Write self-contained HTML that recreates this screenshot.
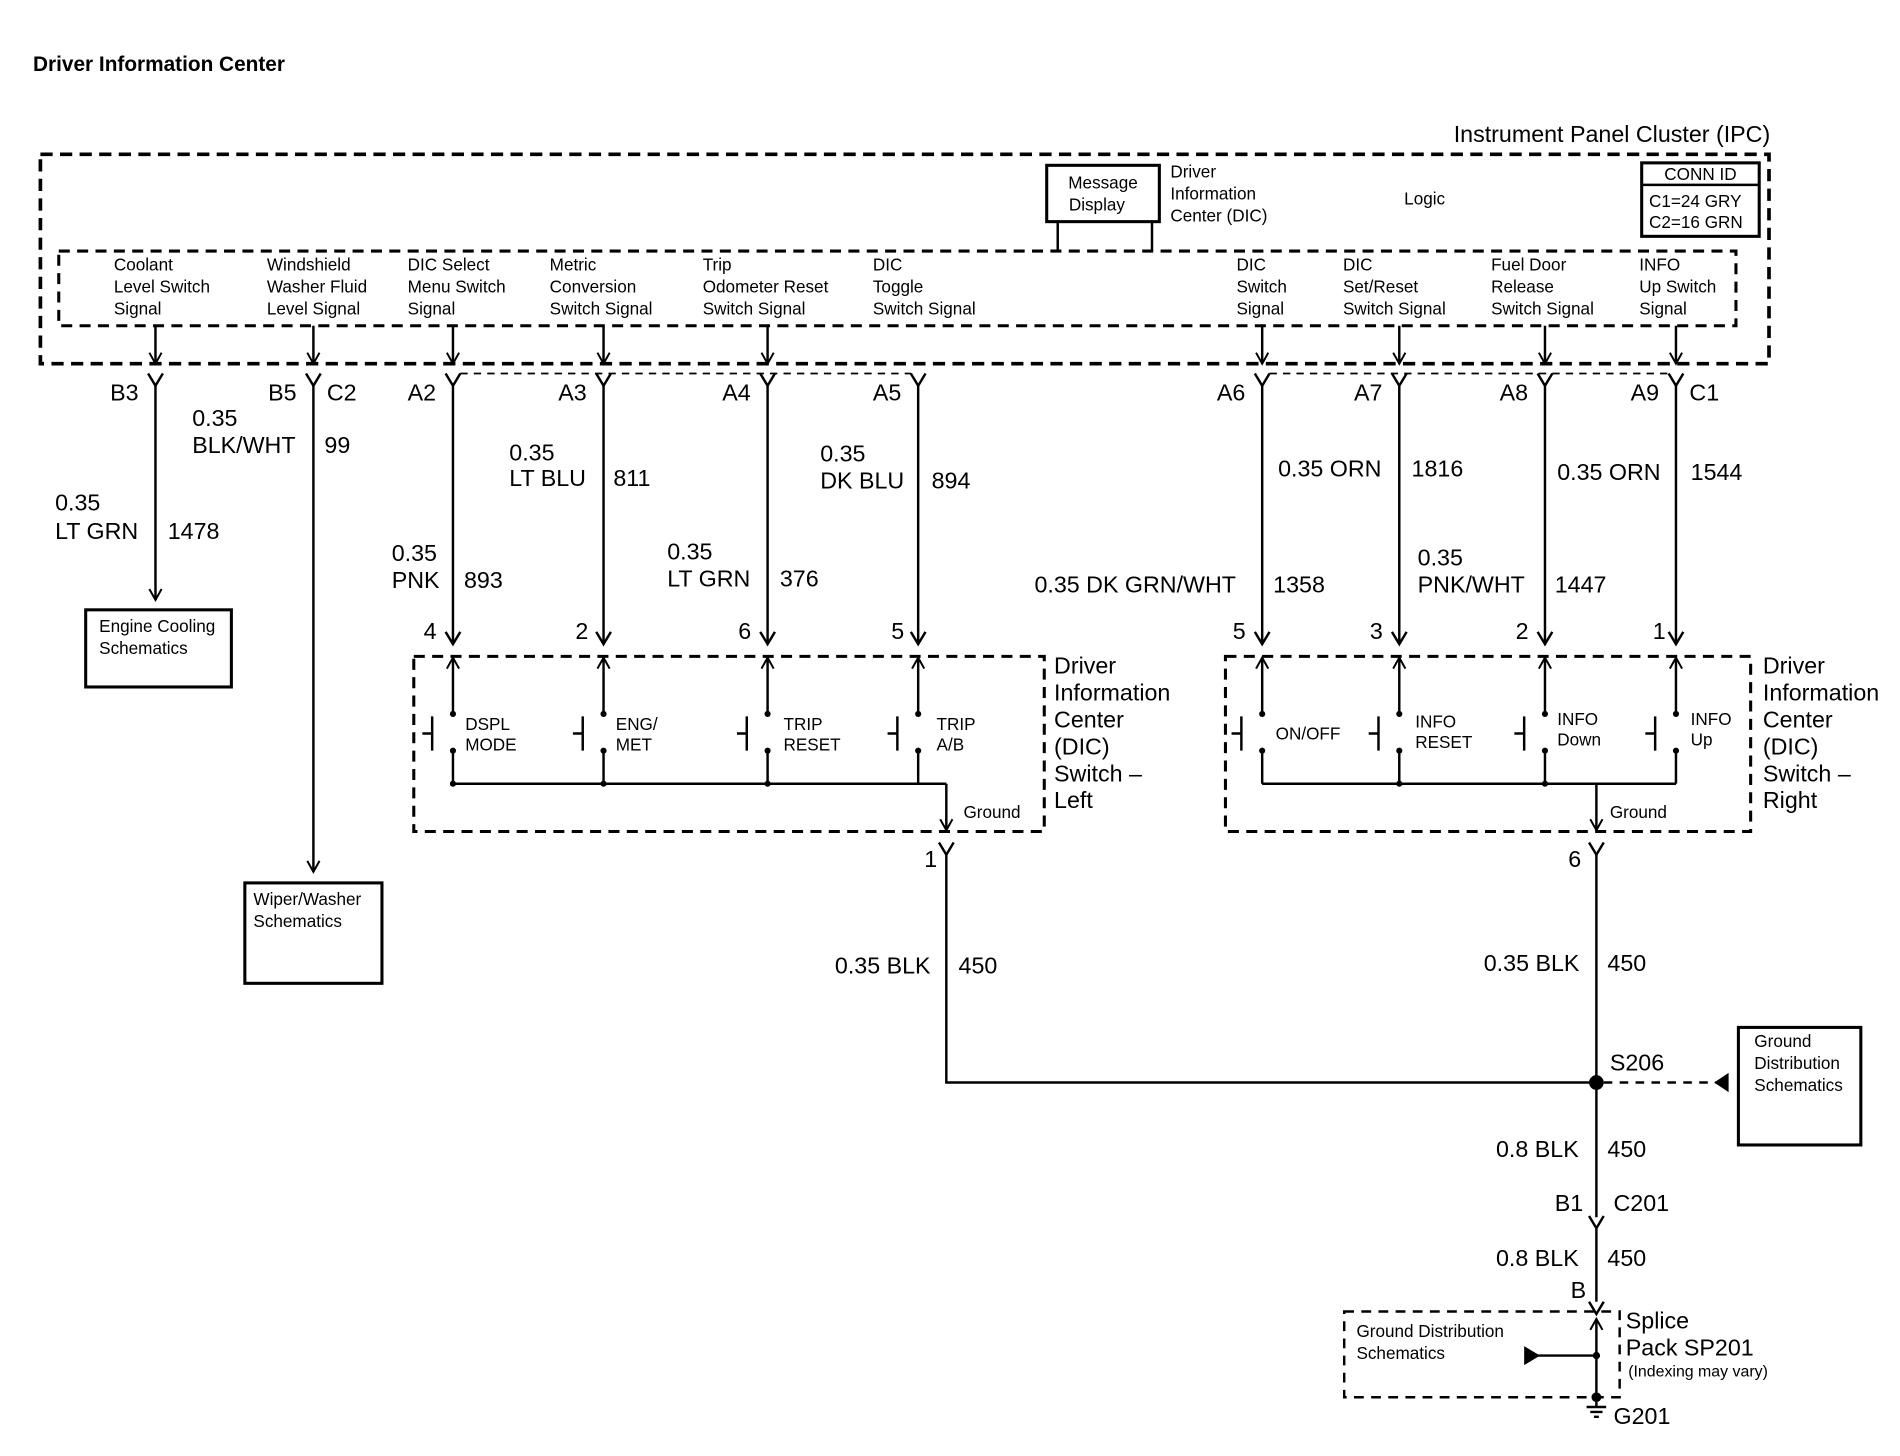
<!DOCTYPE html>
<html><head><meta charset="utf-8"><style>
html,body{margin:0;padding:0;background:#fff}
svg{display:block}
text{font-family:"Liberation Sans",Arial,sans-serif;fill:#000}
.s{font-size:14px}.m{font-size:19px}
</style></head><body>
<svg width="1900" height="1456" viewBox="0 0 1552 1189" preserveAspectRatio="none" xmlns="http://www.w3.org/2000/svg">
<defs>
<marker id="ad" markerWidth="12" markerHeight="12" refX="10" refY="6" orient="auto" markerUnits="userSpaceOnUse"><path d="M1,1 L10,6 L1,11" fill="none" stroke="#000" stroke-width="1.6"/></marker>
</defs>
<g stroke="#000" fill="none" stroke-width="2">
<text x="27" y="58" style="font-size:17px;font-weight:bold" stroke="none">Driver Information Center</text>
<rect x="33" y="126" width="1412" height="171" stroke-width="3" stroke-dasharray="10,6"/>
<rect x="48" y="205" width="1370" height="61" stroke-width="2.5" stroke-dasharray="9,6"/>
<rect x="855" y="135" width="92" height="46" stroke-width="2.5"/>
<line x1="864" y1="181" x2="864" y2="205"/><line x1="941" y1="181" x2="941" y2="205"/>
<rect x="1341" y="133" width="96" height="60" stroke-width="2.5"/>
<line x1="1341" y1="151" x2="1437" y2="151"/>
</g>
<g class="s">
<text x="1446" y="116" class="m" text-anchor="end">Instrument Panel Cluster (IPC)</text>
<text x="901" y="154" text-anchor="middle">Message</text><text x="896" y="172" text-anchor="middle">Display</text>
<text x="956" y="145">Driver</text><text x="956" y="163">Information</text><text x="956" y="181">Center (DIC)</text>
<text x="1147" y="167">Logic</text>
<text x="1389" y="147" text-anchor="middle">CONN ID</text>
<text x="1347" y="169">C1=24 GRY</text><text x="1347" y="186">C2=16 GRN</text>
<text x="93" y="221">Coolant</text><text x="93" y="239">Level Switch</text><text x="93" y="257">Signal</text>
<text x="218" y="221">Windshield</text><text x="218" y="239">Washer Fluid</text><text x="218" y="257">Level Signal</text>
<text x="333" y="221">DIC Select</text><text x="333" y="239">Menu Switch</text><text x="333" y="257">Signal</text>
<text x="449" y="221">Metric</text><text x="449" y="239">Conversion</text><text x="449" y="257">Switch Signal</text>
<text x="574" y="221">Trip</text><text x="574" y="239">Odometer Reset</text><text x="574" y="257">Switch Signal</text>
<text x="713" y="221">DIC</text><text x="713" y="239">Toggle</text><text x="713" y="257">Switch Signal</text>
<text x="1010" y="221">DIC</text><text x="1010" y="239">Switch</text><text x="1010" y="257">Signal</text>
<text x="1097" y="221">DIC</text><text x="1097" y="239">Set/Reset</text><text x="1097" y="257">Switch Signal</text>
<text x="1218" y="221">Fuel Door</text><text x="1218" y="239">Release</text><text x="1218" y="257">Switch Signal</text>
<text x="1339" y="221">INFO</text><text x="1339" y="239">Up Switch</text><text x="1339" y="257">Signal</text>
</g>
<g stroke="#000" fill="none" stroke-width="2">
<g marker-end="url(#ad)">
<line x1="127" y1="266" x2="127" y2="297"/><line x1="256" y1="266" x2="256" y2="297"/><line x1="370" y1="266" x2="370" y2="297"/><line x1="493" y1="266" x2="493" y2="297"/><line x1="627" y1="266" x2="627" y2="297"/><line x1="1031" y1="266" x2="1031" y2="297"/><line x1="1143" y1="266" x2="1143" y2="297"/><line x1="1262" y1="266" x2="1262" y2="297"/><line x1="1369" y1="266" x2="1369" y2="297"/>
<line x1="370" y1="583" x2="370" y2="537"/><line x1="493" y1="583" x2="493" y2="537"/><line x1="627" y1="583" x2="627" y2="537"/><line x1="750" y1="583" x2="750" y2="537"/><line x1="1031" y1="583" x2="1031" y2="537"/><line x1="1143" y1="583" x2="1143" y2="537"/><line x1="1262" y1="583" x2="1262" y2="537"/><line x1="1369" y1="583" x2="1369" y2="537"/>
</g>
<path d="M121,305L127,315L133,305M250,305L256,315L262,305M364,305L370,315L376,305M487,305L493,315L499,305M621,305L627,315L633,305M744,305L750,315L756,305M1025,305L1031,315L1037,305M1137,305L1143,315L1149,305M1256,305L1262,315L1268,305M1363,305L1369,315L1375,305"/>
<path d="M376,305H744M1037,305H1363" stroke-dasharray="6,5" stroke-width="1.5"/>
<line x1="127" y1="315" x2="127" y2="490" marker-end="url(#ad)"/>
<line x1="256" y1="315" x2="256" y2="712" marker-end="url(#ad)"/>
<rect x="70" y="498" width="119" height="63" stroke-width="2.5"/>
<rect x="200" y="721" width="112" height="82" stroke-width="2.5"/>
<path d="M370,315V526M493,315V526M627,315V526M750,315V526M1031,315V526M1143,315V526M1262,315V526M1369,315V526"/>
<path d="M364,516L370,526L376,516M487,516L493,526L499,516M621,516L627,526L633,516M744,516L750,526L756,516M1025,516L1031,526L1037,516M1137,516L1143,526L1149,516M1256,516L1262,526L1268,516M1363,516L1369,526L1375,516"/>
<rect x="338" y="536" width="515" height="143" stroke-width="2.5" stroke-dasharray="9,6"/>
<rect x="1001" y="536" width="429" height="143" stroke-width="2.5" stroke-dasharray="9,6"/>
<path d="M370,613V640M493,613V640M627,613V640M750,613V640M1031,613V640M1143,613V640M1262,613V640M1369,613V640"/>
<path d="M353,585V613M352,599H345M476,585V613M475,599H468M610,585V613M609,599H602M733,585V613M732,599H725M1014,585V613M1013,599H1006M1126,585V613M1125,599H1118M1245,585V613M1244,599H1237M1352,585V613M1351,599H1344"/>
<path d="M370,640H773M1031,640H1369"/>
<line x1="773" y1="640" x2="773" y2="678" marker-end="url(#ad)"/>
<line x1="1304" y1="640" x2="1304" y2="678" marker-end="url(#ad)"/>
<path d="M767,688L773,698L779,688M1298,688L1304,698L1310,688"/>
<path d="M773,698V884H1304M1304,698V994"/>
<path d="M1310,884H1405" stroke-dasharray="7,6"/>
<path d="M1411,878L1402,884L1411,890Z" fill="#000"/>
<rect x="1420" y="839" width="100" height="96" stroke-width="2.5"/>
<path d="M1298,993L1304,1003L1310,993M1304,1003V1063M1298,1063L1304,1073L1310,1063"/>
<line x1="1304" y1="1141" x2="1304" y2="1077" marker-end="url(#ad)"/>
<rect x="1098" y="1071" width="225" height="70" stroke-width="2" stroke-dasharray="8,6"/>
<path d="M1250,1107H1304"/>
<path d="M1246,1101L1256,1107L1246,1113Z" fill="#000"/>
<path d="M1304,1141V1149M1296,1149H1312M1299,1153H1309M1302,1157H1306"/>
</g>
<g fill="#000">
<circle cx="370" cy="583" r="2.5"/><circle cx="370" cy="613" r="2.5"/><circle cx="493" cy="583" r="2.5"/><circle cx="493" cy="613" r="2.5"/>
<circle cx="627" cy="583" r="2.5"/><circle cx="627" cy="613" r="2.5"/><circle cx="750" cy="583" r="2.5"/><circle cx="750" cy="613" r="2.5"/>
<circle cx="1031" cy="583" r="2.5"/><circle cx="1031" cy="613" r="2.5"/><circle cx="1143" cy="583" r="2.5"/><circle cx="1143" cy="613" r="2.5"/>
<circle cx="1262" cy="583" r="2.5"/><circle cx="1262" cy="613" r="2.5"/><circle cx="1369" cy="583" r="2.5"/><circle cx="1369" cy="613" r="2.5"/>
<circle cx="370" cy="640" r="2.5"/><circle cx="493" cy="640" r="2.5"/><circle cx="627" cy="640" r="2.5"/><circle cx="1143" cy="640" r="2.5"/><circle cx="1262" cy="640" r="2.5"/>
<circle cx="1304" cy="884" r="6"/><circle cx="1304" cy="1107" r="3"/><circle cx="1304" cy="1141" r="4"/>
</g>
<g class="m">
<text x="90" y="327">B3</text><text x="219" y="327">B5</text><text x="267" y="327">C2</text>
<text x="333" y="327">A2</text><text x="456" y="327">A3</text><text x="590" y="327">A4</text><text x="713" y="327">A5</text>
<text x="994" y="327">A6</text><text x="1106" y="327">A7</text><text x="1225" y="327">A8</text><text x="1332" y="327">A9</text><text x="1380" y="327">C1</text>
<text x="45" y="417">0.35</text><text x="45" y="440">LT GRN</text><text x="137" y="440">1478</text>
<text x="157" y="348">0.35</text><text x="157" y="370">BLK/WHT</text><text x="265" y="370">99</text>
<text x="320" y="458">0.35</text><text x="320" y="480">PNK</text><text x="379" y="480">893</text>
<text x="416" y="376">0.35</text><text x="416" y="397">LT BLU</text><text x="501" y="397">811</text>
<text x="545" y="457">0.35</text><text x="545" y="479">LT GRN</text><text x="637" y="479">376</text>
<text x="670" y="377">0.35</text><text x="670" y="399">DK BLU</text><text x="761" y="399">894</text>
<text x="845" y="484">0.35 DK GRN/WHT</text><text x="1040" y="484">1358</text>
<text x="1044" y="389">0.35 ORN</text><text x="1153" y="389">1816</text>
<text x="1158" y="462">0.35</text><text x="1158" y="484">PNK/WHT</text><text x="1270" y="484">1447</text>
<text x="1272" y="392">0.35 ORN</text><text x="1381" y="392">1544</text>
<text x="346" y="522">4</text><text x="470" y="522">2</text><text x="603" y="522">6</text><text x="728" y="522">5</text>
<text x="1007" y="522">5</text><text x="1119" y="522">3</text><text x="1238" y="522">2</text><text x="1350" y="522">1</text>
<text x="861" y="550">Driver</text><text x="861" y="572">Information</text><text x="861" y="594">Center</text><text x="861" y="616">(DIC)</text><text x="861" y="638">Switch –</text><text x="861" y="660">Left</text>
<text x="1440" y="550">Driver</text><text x="1440" y="572">Information</text><text x="1440" y="594">Center</text><text x="1440" y="616">(DIC)</text><text x="1440" y="638">Switch –</text><text x="1440" y="660">Right</text>
<text x="755" y="708">1</text><text x="1281" y="708">6</text>
<text x="682" y="795">0.35 BLK</text><text x="783" y="795">450</text>
<text x="1212" y="793">0.35 BLK</text><text x="1313" y="793">450</text>
<text x="1315" y="874">S206</text>
<text x="1222" y="945">0.8 BLK</text><text x="1313" y="945">450</text>
<text x="1270" y="989">B1</text><text x="1318" y="989">C201</text>
<text x="1222" y="1034">0.8 BLK</text><text x="1313" y="1034">450</text>
<text x="1283" y="1060">B</text>
<text x="1328" y="1085">Splice</text><text x="1328" y="1107">Pack SP201</text>
<text x="1318" y="1163">G201</text>
</g>
<g class="s">
<text x="81" y="516">Engine Cooling</text><text x="81" y="534">Schematics</text>
<text x="207" y="739">Wiper/Washer</text><text x="207" y="757">Schematics</text>
<text x="380" y="596">DSPL</text><text x="380" y="613">MODE</text>
<text x="503" y="596">ENG/</text><text x="503" y="613">MET</text>
<text x="640" y="596">TRIP</text><text x="640" y="613">RESET</text>
<text x="765" y="596">TRIP</text><text x="765" y="613">A/B</text>
<text x="1042" y="604">ON/OFF</text>
<text x="1156" y="594">INFO</text><text x="1156" y="611">RESET</text>
<text x="1272" y="592">INFO</text><text x="1272" y="609">Down</text>
<text x="1381" y="592">INFO</text><text x="1381" y="609">Up</text>
<text x="787" y="668">Ground</text><text x="1315" y="668">Ground</text>
<text x="1433" y="855">Ground</text><text x="1433" y="873">Distribution</text><text x="1433" y="891">Schematics</text>
<text x="1108" y="1092">Ground Distribution</text><text x="1108" y="1110">Schematics</text>
<text x="1330" y="1124" style="font-size:13px">(Indexing may vary)</text>
</g>
</svg>
</body></html>
